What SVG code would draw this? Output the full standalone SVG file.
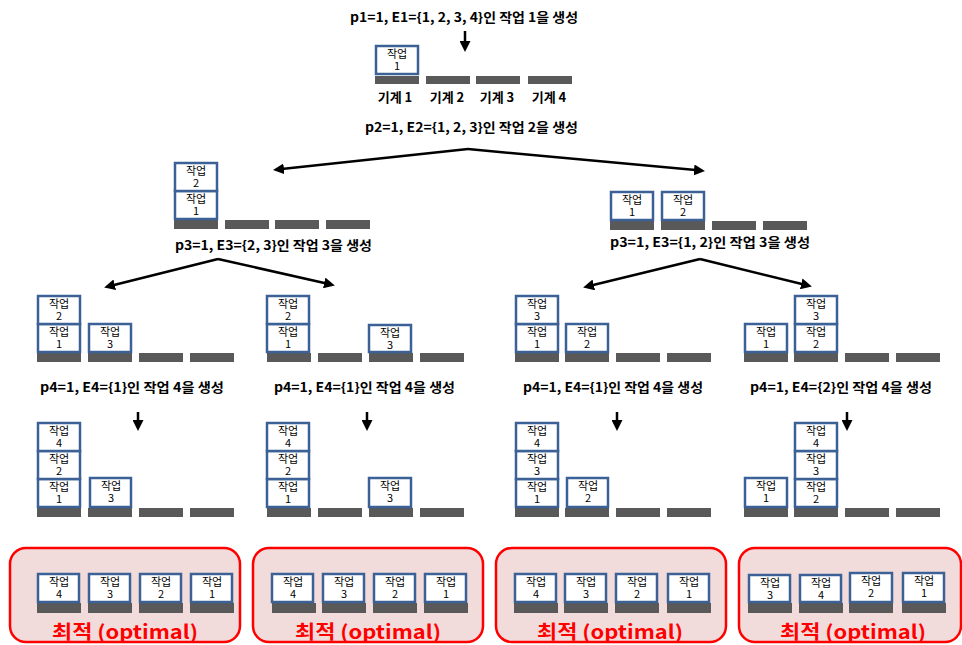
<svg xmlns="http://www.w3.org/2000/svg" width="962" height="645" viewBox="0 0 962 645">
<defs>
<style>
.hd{font-family:"Noto Sans CJK KR","Liberation Sans",sans-serif;font-weight:bold;font-size:13px;fill:#000;text-anchor:start}
.mc{font-family:"Noto Sans CJK KR","Liberation Sans",sans-serif;font-weight:bold;font-size:13px;fill:#000;text-anchor:middle}
.job rect{fill:#fff;stroke:#3b6196;stroke-width:2.5}
.job text{font-family:"Noto Sans CJK KR","Liberation Sans",sans-serif;font-size:11px;fill:#000;text-anchor:middle}
.bar{fill:#595959}
.conn line{stroke:#000;stroke-width:2.5;marker-end:url(#ah)}
.optbox{fill:#f2dcdb;stroke:#ff0000;stroke-width:2.5}
.opttxt{font-family:"Noto Sans CJK KR","Liberation Sans",sans-serif;font-weight:bold;font-size:19px;fill:#ff0000;text-anchor:start}
</style>
<marker id="ah" markerUnits="userSpaceOnUse" markerWidth="11" markerHeight="11" refX="7" refY="5.5" orient="auto">
<path d="M0,0 L11,5.5 L0,11 z" fill="#000"/>
</marker>
</defs>

<g id="texts">
<text class="hd" x="350" y="22" textLength="228" lengthAdjust="spacingAndGlyphs">p1=1, E1={1, 2, 3, 4}인 작업 1을 생성</text>
<text class="mc" x="395" y="102">기계 1</text>
<text class="mc" x="447" y="102">기계 2</text>
<text class="mc" x="497" y="102">기계 3</text>
<text class="mc" x="549" y="102">기계 4</text>
<text class="hd" x="365" y="132" textLength="213" lengthAdjust="spacingAndGlyphs">p2=1, E2={1, 2, 3}인 작업 2을 생성</text>
<text class="hd" x="175" y="250" textLength="197" lengthAdjust="spacingAndGlyphs">p3=1, E3={2, 3}인 작업 3을 생성</text>
<text class="hd" x="610" y="247" textLength="200" lengthAdjust="spacingAndGlyphs">p3=1, E3={1, 2}인 작업 3을 생성</text>
<text class="hd" x="40" y="392" textLength="184" lengthAdjust="spacingAndGlyphs">p4=1, E4={1}인 작업 4을 생성</text>
<text class="hd" x="274" y="392" textLength="181" lengthAdjust="spacingAndGlyphs">p4=1, E4={1}인 작업 4을 생성</text>
<text class="hd" x="523" y="392" textLength="180" lengthAdjust="spacingAndGlyphs">p4=1, E4={1}인 작업 4을 생성</text>
<text class="hd" x="750" y="392" textLength="182" lengthAdjust="spacingAndGlyphs">p4=1, E4={2}인 작업 4을 생성</text>
</g>

<g id="connectors" class="conn">
<line x1="465" y1="31" x2="465" y2="48"/>
<line x1="468" y1="149" x2="277" y2="169.6"/>
<line x1="468" y1="149" x2="701" y2="170.6"/>
<line x1="218" y1="259" x2="108" y2="286.5"/>
<line x1="218" y1="259" x2="331" y2="284.5"/>
<line x1="700" y1="259" x2="587" y2="286.5"/>
<line x1="700" y1="259" x2="808" y2="285.5"/>
<line x1="138" y1="412" x2="138" y2="427"/>
<line x1="367" y1="412" x2="367" y2="427"/>
<line x1="617" y1="412" x2="617" y2="427"/>
<line x1="847" y1="412" x2="847" y2="427"/>
</g>

<g id="s1">
<rect class="bar" x="375" y="76" width="44" height="8"/><rect class="bar" x="426" y="76" width="44" height="8"/><rect class="bar" x="476" y="76" width="44" height="8"/><rect class="bar" x="528" y="76" width="44" height="8"/>
<g class="job" transform="translate(376,46)"><rect width="42" height="28"/><text><tspan x="21" y="12">작업</tspan><tspan x="21" y="24">1</tspan></text></g>
</g>

<g id="s2a">
<rect class="bar" x="174" y="220" width="44" height="9"/><rect class="bar" x="225" y="220" width="44" height="9"/><rect class="bar" x="275" y="220" width="44" height="9"/><rect class="bar" x="326" y="220" width="44" height="9"/>
<g class="job" transform="translate(175,191)"><rect width="42" height="28"/><text><tspan x="21" y="12">작업</tspan><tspan x="21" y="24">1</tspan></text></g>
<g class="job" transform="translate(175,163)"><rect width="42" height="28"/><text><tspan x="21" y="12">작업</tspan><tspan x="21" y="24">2</tspan></text></g>
</g>

<g id="s2b">
<rect class="bar" x="610" y="221" width="44" height="9"/><rect class="bar" x="661" y="221" width="44" height="9"/><rect class="bar" x="712" y="221" width="44" height="9"/><rect class="bar" x="763" y="221" width="44" height="9"/>
<g class="job" transform="translate(611,192)"><rect width="42" height="28"/><text><tspan x="21" y="12">작업</tspan><tspan x="21" y="24">1</tspan></text></g>
<g class="job" transform="translate(662,192)"><rect width="42" height="28"/><text><tspan x="21" y="12">작업</tspan><tspan x="21" y="24">2</tspan></text></g>
</g>

<g id="s3a">
<rect class="bar" x="37" y="353" width="44" height="9"/><rect class="bar" x="88" y="353" width="44" height="9"/><rect class="bar" x="139" y="353" width="44" height="9"/><rect class="bar" x="190" y="353" width="44" height="9"/>
<g class="job" transform="translate(38,324)"><rect width="42" height="28"/><text><tspan x="21" y="12">작업</tspan><tspan x="21" y="24">1</tspan></text></g>
<g class="job" transform="translate(38,296)"><rect width="42" height="28"/><text><tspan x="21" y="12">작업</tspan><tspan x="21" y="24">2</tspan></text></g>
<g class="job" transform="translate(89,324)"><rect width="42" height="28"/><text><tspan x="21" y="12">작업</tspan><tspan x="21" y="24">3</tspan></text></g>
</g>
<g id="s3b">
<rect class="bar" x="267" y="353" width="44" height="9"/><rect class="bar" x="318" y="353" width="44" height="9"/><rect class="bar" x="369" y="353" width="44" height="9"/><rect class="bar" x="420" y="353" width="44" height="9"/>
<g class="job" transform="translate(267,324)"><rect width="42" height="28"/><text><tspan x="21" y="12">작업</tspan><tspan x="21" y="24">1</tspan></text></g>
<g class="job" transform="translate(267,296)"><rect width="42" height="28"/><text><tspan x="21" y="12">작업</tspan><tspan x="21" y="24">2</tspan></text></g>
<g class="job" transform="translate(369,325)"><rect width="42" height="27"/><text><tspan x="21" y="12">작업</tspan><tspan x="21" y="24">3</tspan></text></g>
</g>
<g id="s3c">
<rect class="bar" x="515" y="353" width="44" height="9"/><rect class="bar" x="565" y="353" width="44" height="9"/><rect class="bar" x="616" y="353" width="44" height="9"/><rect class="bar" x="667" y="353" width="44" height="9"/>
<g class="job" transform="translate(516,324)"><rect width="42" height="28"/><text><tspan x="21" y="12">작업</tspan><tspan x="21" y="24">1</tspan></text></g>
<g class="job" transform="translate(516,296)"><rect width="42" height="28"/><text><tspan x="21" y="12">작업</tspan><tspan x="21" y="24">3</tspan></text></g>
<g class="job" transform="translate(566,324)"><rect width="42" height="28"/><text><tspan x="21" y="12">작업</tspan><tspan x="21" y="24">2</tspan></text></g>
</g>
<g id="s3d">
<rect class="bar" x="744" y="353" width="44" height="9"/><rect class="bar" x="794" y="353" width="44" height="9"/><rect class="bar" x="845" y="353" width="44" height="9"/><rect class="bar" x="896" y="353" width="44" height="9"/>
<g class="job" transform="translate(745,324)"><rect width="42" height="28"/><text><tspan x="21" y="12">작업</tspan><tspan x="21" y="24">1</tspan></text></g>
<g class="job" transform="translate(795,324)"><rect width="42" height="28"/><text><tspan x="21" y="12">작업</tspan><tspan x="21" y="24">2</tspan></text></g>
<g class="job" transform="translate(795,296)"><rect width="42" height="28"/><text><tspan x="21" y="12">작업</tspan><tspan x="21" y="24">3</tspan></text></g>
</g>

<g id="s4a">
<rect class="bar" x="37" y="508" width="44" height="9"/><rect class="bar" x="88" y="508" width="44" height="9"/><rect class="bar" x="139" y="508" width="44" height="9"/><rect class="bar" x="190" y="508" width="44" height="9"/>
<g class="job" transform="translate(38,479)"><rect width="42" height="28"/><text><tspan x="21" y="12">작업</tspan><tspan x="21" y="24">1</tspan></text></g>
<g class="job" transform="translate(38,451)"><rect width="42" height="28"/><text><tspan x="21" y="12">작업</tspan><tspan x="21" y="24">2</tspan></text></g>
<g class="job" transform="translate(38,423)"><rect width="42" height="28"/><text><tspan x="21" y="12">작업</tspan><tspan x="21" y="24">4</tspan></text></g>
<g class="job" transform="translate(90,478)"><rect width="41" height="29"/><text><tspan x="21" y="12">작업</tspan><tspan x="21" y="24">3</tspan></text></g>
</g>
<g id="s4b">
<rect class="bar" x="267" y="508" width="44" height="9"/><rect class="bar" x="318" y="508" width="44" height="9"/><rect class="bar" x="369" y="508" width="44" height="9"/><rect class="bar" x="420" y="508" width="44" height="9"/>
<g class="job" transform="translate(267,479)"><rect width="42" height="28"/><text><tspan x="21" y="12">작업</tspan><tspan x="21" y="24">1</tspan></text></g>
<g class="job" transform="translate(267,451)"><rect width="42" height="28"/><text><tspan x="21" y="12">작업</tspan><tspan x="21" y="24">2</tspan></text></g>
<g class="job" transform="translate(267,423)"><rect width="42" height="28"/><text><tspan x="21" y="12">작업</tspan><tspan x="21" y="24">4</tspan></text></g>
<g class="job" transform="translate(369,478)"><rect width="42" height="29"/><text><tspan x="21" y="12">작업</tspan><tspan x="21" y="24">3</tspan></text></g>
</g>
<g id="s4c">
<rect class="bar" x="515" y="508" width="44" height="9"/><rect class="bar" x="565" y="508" width="44" height="9"/><rect class="bar" x="616" y="508" width="44" height="9"/><rect class="bar" x="667" y="508" width="44" height="9"/>
<g class="job" transform="translate(516,479)"><rect width="42" height="28"/><text><tspan x="21" y="12">작업</tspan><tspan x="21" y="24">1</tspan></text></g>
<g class="job" transform="translate(516,451)"><rect width="42" height="28"/><text><tspan x="21" y="12">작업</tspan><tspan x="21" y="24">3</tspan></text></g>
<g class="job" transform="translate(516,423)"><rect width="42" height="28"/><text><tspan x="21" y="12">작업</tspan><tspan x="21" y="24">4</tspan></text></g>
<g class="job" transform="translate(567,478)"><rect width="41" height="29"/><text><tspan x="21" y="12">작업</tspan><tspan x="21" y="24">2</tspan></text></g>
</g>
<g id="s4d">
<rect class="bar" x="744" y="508" width="44" height="9"/><rect class="bar" x="794" y="508" width="44" height="9"/><rect class="bar" x="845" y="508" width="44" height="9"/><rect class="bar" x="896" y="508" width="44" height="9"/>
<g class="job" transform="translate(745,478)"><rect width="42" height="29"/><text><tspan x="21" y="12">작업</tspan><tspan x="21" y="24">1</tspan></text></g>
<g class="job" transform="translate(795,479)"><rect width="42" height="28"/><text><tspan x="21" y="12">작업</tspan><tspan x="21" y="24">2</tspan></text></g>
<g class="job" transform="translate(795,451)"><rect width="42" height="28"/><text><tspan x="21" y="12">작업</tspan><tspan x="21" y="24">3</tspan></text></g>
<g class="job" transform="translate(795,423)"><rect width="42" height="28"/><text><tspan x="21" y="12">작업</tspan><tspan x="21" y="24">4</tspan></text></g>
</g>

<g id="opt1">
<rect class="optbox" x="10" y="548" width="230" height="94" rx="16"/>
<rect class="bar" x="37" y="603" width="44" height="10"/><rect class="bar" x="88" y="603" width="44" height="10"/><rect class="bar" x="139" y="603" width="44" height="10"/><rect class="bar" x="190" y="603" width="44" height="10"/>
<g class="job" transform="translate(38,574)"><rect width="41" height="28"/><text><tspan x="21" y="12">작업</tspan><tspan x="21" y="24">4</tspan></text></g>
<g class="job" transform="translate(89,574)"><rect width="41" height="28"/><text><tspan x="21" y="12">작업</tspan><tspan x="21" y="24">3</tspan></text></g>
<g class="job" transform="translate(140,574)"><rect width="41" height="28"/><text><tspan x="21" y="12">작업</tspan><tspan x="21" y="24">2</tspan></text></g>
<g class="job" transform="translate(191,574)"><rect width="41" height="28"/><text><tspan x="21" y="12">작업</tspan><tspan x="21" y="24">1</tspan></text></g>
<text class="opttxt" x="52" y="639" textLength="146" lengthAdjust="spacingAndGlyphs">최적 (optimal)</text>
</g>
<g id="opt2">
<rect class="optbox" x="253" y="548" width="230" height="94" rx="16"/>
<rect class="bar" x="272" y="603" width="44" height="10"/><rect class="bar" x="322" y="603" width="44" height="10"/><rect class="bar" x="373" y="603" width="44" height="10"/><rect class="bar" x="424" y="603" width="44" height="10"/>
<g class="job" transform="translate(272,574)"><rect width="41" height="28"/><text><tspan x="21" y="12">작업</tspan><tspan x="21" y="24">4</tspan></text></g>
<g class="job" transform="translate(323,574)"><rect width="41" height="28"/><text><tspan x="21" y="12">작업</tspan><tspan x="21" y="24">3</tspan></text></g>
<g class="job" transform="translate(374,574)"><rect width="41" height="28"/><text><tspan x="21" y="12">작업</tspan><tspan x="21" y="24">2</tspan></text></g>
<g class="job" transform="translate(425,574)"><rect width="41" height="28"/><text><tspan x="21" y="12">작업</tspan><tspan x="21" y="24">1</tspan></text></g>
<text class="opttxt" x="295" y="639" textLength="146" lengthAdjust="spacingAndGlyphs">최적 (optimal)</text>
</g>
<g id="opt3">
<rect class="optbox" x="496" y="548" width="230" height="94" rx="16"/>
<rect class="bar" x="514" y="603" width="44" height="10"/><rect class="bar" x="564" y="603" width="44" height="10"/><rect class="bar" x="615" y="603" width="44" height="10"/><rect class="bar" x="667" y="603" width="44" height="10"/>
<g class="job" transform="translate(515,574)"><rect width="41" height="28"/><text><tspan x="21" y="12">작업</tspan><tspan x="21" y="24">4</tspan></text></g>
<g class="job" transform="translate(565,574)"><rect width="41" height="28"/><text><tspan x="21" y="12">작업</tspan><tspan x="21" y="24">3</tspan></text></g>
<g class="job" transform="translate(616,574)"><rect width="41" height="28"/><text><tspan x="21" y="12">작업</tspan><tspan x="21" y="24">2</tspan></text></g>
<g class="job" transform="translate(668,574)"><rect width="41" height="28"/><text><tspan x="21" y="12">작업</tspan><tspan x="21" y="24">1</tspan></text></g>
<text class="opttxt" x="537" y="639" textLength="146" lengthAdjust="spacingAndGlyphs">최적 (optimal)</text>
</g>
<g id="opt4">
<rect class="optbox" x="739" y="548" width="222" height="94" rx="16"/>
<rect class="bar" x="748" y="603" width="44" height="10"/><rect class="bar" x="799" y="603" width="44" height="10"/><rect class="bar" x="849" y="603" width="44" height="10"/><rect class="bar" x="902" y="603" width="44" height="10"/>
<g class="job" transform="translate(749,575)"><rect width="41" height="27"/><text><tspan x="21" y="12">작업</tspan><tspan x="21" y="24">3</tspan></text></g>
<g class="job" transform="translate(800,575)"><rect width="41" height="27"/><text><tspan x="21" y="12">작업</tspan><tspan x="21" y="24">4</tspan></text></g>
<g class="job" transform="translate(850,573)"><rect width="42" height="29"/><text><tspan x="21" y="12">작업</tspan><tspan x="21" y="24">2</tspan></text></g>
<g class="job" transform="translate(903,573)"><rect width="41" height="29"/><text><tspan x="21" y="12">작업</tspan><tspan x="21" y="24">1</tspan></text></g>
<text class="opttxt" x="780" y="639" textLength="146" lengthAdjust="spacingAndGlyphs">최적 (optimal)</text>
</g>
</svg>
